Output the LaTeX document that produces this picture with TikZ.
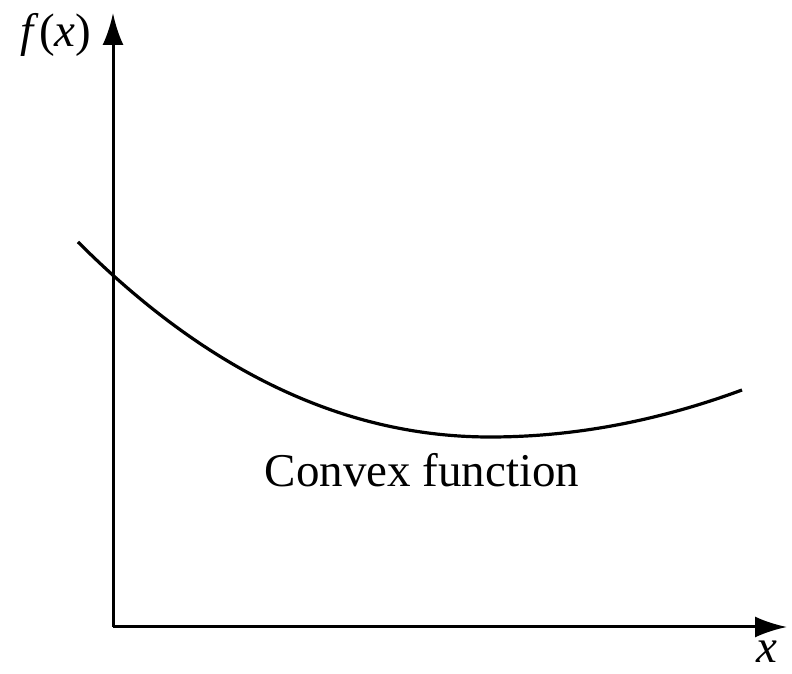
\documentclass[tikz,border=0pt]{standalone}
\usepackage{fontspec}
\setmainfont{Liberation Serif}
\usepackage{tikz}
\usetikzlibrary{arrows.meta}

\begin{document}
\begin{tikzpicture}[x=1pt,y=1pt,axis/.style={line width=3pt,-{Latex[length=32pt,width=21pt]}},crv/.style={line width=3.2pt},lbl/.style={font=\fontsize{47}{50}\selectfont,inner sep=0pt}]
\useasboundingbox (0,0) rectangle (792,674);
\coordinate (O) at (113,47);
\coordinate (ytop) at (113,661);
\coordinate (xend) at (787,47);
\draw[axis] (O) -- (ytop);
\draw[axis] (O) -- (xend);
\node[lbl] (fx) at (56,639) {\textit{f}(\textit{x})};
\node[lbl] (xl) at (767,22) {\textit{x}};
% the curve
\coordinate (c0) at (78,432);
\coordinate (cmin) at (490,237);
\coordinate (c1) at (742,284);
\draw[crv] (c0) .. controls (208,302) and (345,237) .. (cmin)
   .. controls (574,237) and (658,253) .. (c1);
\node[lbl] (cf) at (422,204) {Convex function};
\end{tikzpicture}
\end{document}
